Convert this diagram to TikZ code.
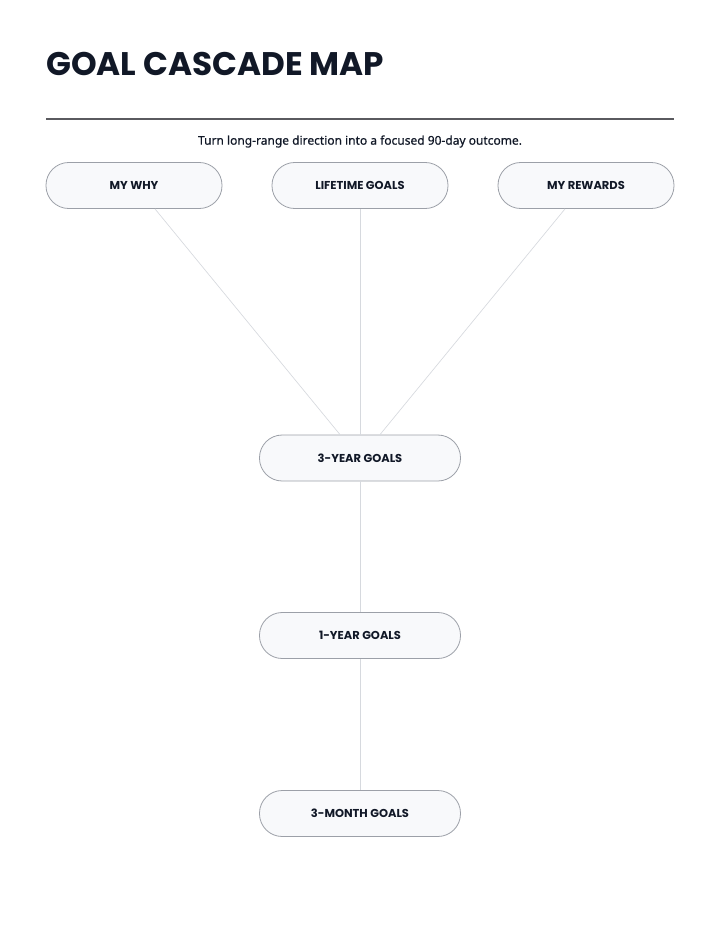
\documentclass[tikz,border=0pt]{standalone}
\usepackage{fontspec}
\setmainfont{Poppins}
\newfontfamily\subfont[FakeBold=0.6]{Noto Sans}
\usepackage{tikz}
\usetikzlibrary{
  positioning,
  calc
}
\definecolor{ink}{RGB}{17,24,39}
\definecolor{rulegray}{RGB}{90,90,95}
\definecolor{edgegray}{RGB}{156,160,168}
\definecolor{linkgray}{RGB}{214,217,222}
\definecolor{pillfill}{RGB}{248,249,251}

\begin{document}
\begin{tikzpicture}[x=0.75pt, y=-0.75pt,
  pill/.style={draw=edgegray, fill=pillfill, line width=0.6pt, rounded corners=17pt, minimum height=34.5pt, inner sep=0pt, font=\fontsize{8.6}{10}\selectfont\bfseries, text=ink},
  toppill/.style={pill, minimum width=132pt},
  midpill/.style={pill, minimum width=150.75pt},
  link/.style={draw=linkgray, line width=0.5pt}]
\useasboundingbox (0,0) rectangle (720,939);

\node[anchor=base west, inner sep=0pt, text=ink, font=\fontsize{24.5}{28}\selectfont\bfseries] (title) at (46,75) {GOAL CASCADE MAP};
\draw[rulegray, line width=1pt] (46,119) -- (674,119);
\node[inner sep=0pt, text=ink, font=\subfont\fontsize{9}{11}\selectfont] (sub) at (360,141.5) {Turn long-range direction into a focused 90-day outcome.};

\node[toppill] (why) at (134,185.5) {MY WHY};
\node[toppill] (life) at (360,185.5) {LIFETIME GOALS};
\node[toppill] (reward) at (586,185.5) {MY REWARDS};

\node[midpill] (three) at (360,458) {3-YEAR GOALS};
\node[midpill] (one) at (360,635.5) {1-YEAR GOALS};
\node[midpill] (month) at (360,813.5) {3-MONTH GOALS};

\draw[link] ([xshift=15.75pt]why.south) -- ([xshift=-15pt]three.north);
\draw[link] (life.south) -- (three.north);
\draw[link] ([xshift=-15.75pt]reward.south) -- ([xshift=15pt]three.north);
\draw[link] (three.south) -- (one.north);
\draw[link] (one.south) -- (month.north);
\end{tikzpicture}
\end{document}
